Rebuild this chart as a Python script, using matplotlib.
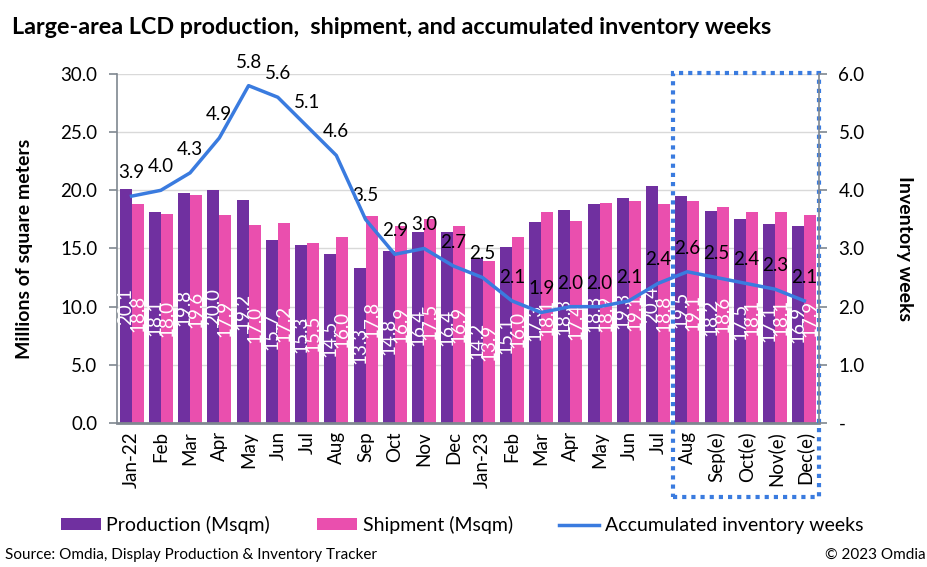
import matplotlib.pyplot as plt
import numpy as np
from matplotlib.patches import Rectangle
import matplotlib.transforms as mtransforms

plt.rcParams['font.family'] = ['Lato', 'DejaVu Sans']

months = ['Jan-22', 'Feb', 'Mar', 'Apr', 'May', 'Jun', 'Jul', 'Aug', 'Sep', 'Oct',
          'Nov', 'Dec', 'Jan-23', 'Feb', 'Mar', 'Apr', 'May', 'Jun', 'Jul', 'Aug',
          'Sep(e)', 'Oct(e)', 'Nov(e)', 'Dec(e)']
production = [20.1, 18.1, 19.8, 20.0, 19.2, 15.7, 15.3, 14.5, 13.3, 14.8, 16.4, 16.4,
              14.2, 15.1, 17.3, 18.3, 18.8, 19.3, 20.4, 19.5, 18.2, 17.5, 17.1, 16.9]
shipment = [18.8, 18.0, 19.6, 17.9, 17.0, 17.2, 15.5, 16.0, 17.8, 16.9, 17.5, 16.9,
            13.9, 16.0, 18.1, 17.4, 18.9, 19.1, 18.8, 19.1, 18.6, 18.1, 18.1, 17.9]
weeks = [3.9, 4.0, 4.3, 4.9, 5.8, 5.6, 5.1, 4.6, 3.5, 2.9, 3.0, 2.7,
         2.5, 2.1, 1.9, 2.0, 2.0, 2.1, 2.4, 2.6, 2.5, 2.4, 2.3, 2.1]
forecast_start = 19  # first month inside the dotted box

c_prod = '#7030A0'
c_ship = '#EA4FAE'
c_line = '#3A7BDF'
c_axis = '#7F8790'

fig = plt.figure(figsize=(9.28, 5.67), dpi=100)
ax = fig.add_axes([0.126, 0.254, 0.7565, 0.6155])
x = np.arange(len(months))
w = 0.41

b1 = ax.bar(x - w / 2, production, w, color=c_prod, label='Production (Msqm)', zorder=2)
b2 = ax.bar(x + w / 2, shipment, w, color=c_ship, label='Shipment (Msqm)', zorder=2)
for bars, vals in ((b1, production), (b2, shipment)):
    for r, v in zip(bars, vals):
        ax.text(r.get_x() + r.get_width() / 2, v / 2, f'{v:.1f}', rotation=90,
                ha='center', va='center', color='white', fontsize=13.5, zorder=3)

ax.set_xlim(-0.5, len(months) - 0.5)
ax.set_ylim(0, 30)
ax.set_yticks(np.arange(0, 30.1, 5))
ax.set_yticklabels([f'{v:.1f}' for v in np.arange(0, 30.1, 5)], fontsize=13.5)
ax.set_xticks(x)
ax.set_xticklabels(months, rotation=90, fontsize=13.5)
ax.tick_params(axis='x', length=0, pad=6)
ax.tick_params(axis='y', length=6, color=c_axis, width=1.2, pad=8)
ax.grid(axis='y', color='#D9D9D9', linewidth=1, zorder=0)
ax.set_axisbelow(True)
for s in ['top', 'right']:
    ax.spines[s].set_visible(False)
ax.spines['left'].set_color(c_axis)
ax.spines['left'].set_linewidth(1.2)
ax.spines['bottom'].set_color(c_axis)
ax.spines['bottom'].set_linewidth(2)
ax.set_ylabel('Millions of square meters', fontsize=14, fontweight='bold', va='center')
ax.yaxis.set_label_coords(-0.131, 0.5)

ax2 = ax.twinx()
ax2.plot(x, weeks, color=c_line, linewidth=2.5, label='Accumulated inventory weeks', zorder=4)
for xi, v in zip(x, weeks):
    ax2.annotate(f'{v:.1f}', (xi, v), xytext=(0, 17), textcoords='offset points',
                 ha='center', va='center', fontsize=13.5, color='black')
ax2.set_ylim(0, 6)
ax2.set_yticks(np.arange(0, 6.1, 1))
ax2.set_yticklabels(['-'] + [f'{v:.1f}' for v in np.arange(1, 6.1, 1)], fontsize=13.5)
ax2.tick_params(axis='y', length=6, color=c_axis, width=1.2, pad=8)
for s in ['top', 'left', 'bottom']:
    ax2.spines[s].set_visible(False)
ax2.spines['right'].set_color(c_axis)
ax2.spines['right'].set_linewidth(1.2)
ax2.set_ylabel('Inventory weeks', fontsize=14, fontweight='bold', rotation=-90, va='center')
ax2.yaxis.set_label_coords(1.1225, 0.5)

# dotted box around the forecast months
trans = mtransforms.blended_transform_factory(ax.transData, ax.transAxes)
box = Rectangle((forecast_start - 0.5, -0.212), len(months) - forecast_start, 1.215,
                transform=trans, fill=False, edgecolor=c_line, linestyle=(0, (1, 1.2)),
                linewidth=3, clip_on=False, zorder=5)
ax.add_patch(box)

h1, l1 = ax.get_legend_handles_labels()
h2, l2 = ax2.get_legend_handles_labels()
fig.legend(h1 + h2, l1 + l2, loc='center', bbox_to_anchor=(0.498, 0.074), ncol=3,
           frameon=False, fontsize=14, handlelength=2.05, handleheight=0.6,
           columnspacing=2.4, handletextpad=0.3)

fig.text(0.013, 0.952, 'Large-area LCD production,  shipment, and accumulated inventory weeks',
         fontsize=16.8, fontweight='bold', va='center', ha='left')
fig.text(0.005, 0.021, 'Source: Omdia, Display Production & Inventory Tracker',
         fontsize=11, va='center', ha='left')
fig.text(0.997, 0.021, '© 2023 Omdia', fontsize=11, va='center', ha='right')

fig.savefig('out.png', dpi=100)
